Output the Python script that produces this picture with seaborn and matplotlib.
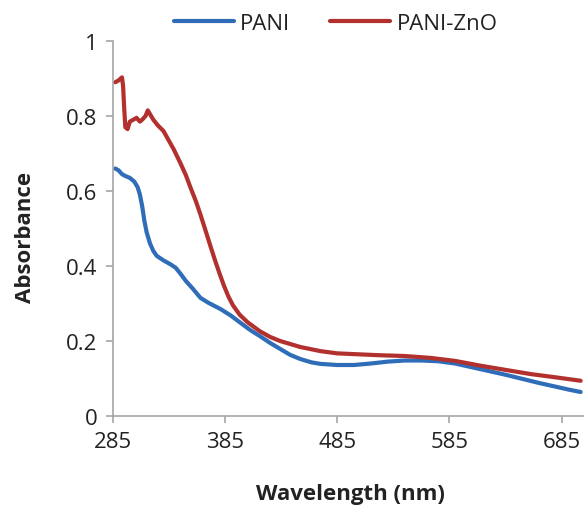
import matplotlib
matplotlib.use("Agg")
import matplotlib.pyplot as plt
import seaborn as sns
import pandas as pd

# ---- data ----
pani_wl = [287, 290, 293, 296, 300, 304, 307, 309, 311, 313, 315, 318, 321, 324,
           330, 336, 341, 345, 350, 356, 363, 370, 381, 390, 398, 407, 416, 425,
           434, 443, 452, 462, 470, 485, 500, 515, 530, 545, 560, 575, 590, 605,
           620, 635, 650, 665, 680, 692, 702]
pani_abs = [0.66, 0.655, 0.645, 0.64, 0.635, 0.625, 0.61, 0.59, 0.56, 0.52, 0.49,
            0.46, 0.44, 0.427, 0.415, 0.405, 0.395, 0.38, 0.36, 0.34, 0.315, 0.302,
            0.285, 0.268, 0.25, 0.23, 0.213, 0.195, 0.179, 0.163, 0.152, 0.143,
            0.139, 0.136, 0.136, 0.14, 0.145, 0.148, 0.148, 0.146, 0.14, 0.13,
            0.12, 0.11, 0.099, 0.088, 0.078, 0.07, 0.064]

zno_wl = [287, 290, 293, 294, 295, 296, 298, 300, 303, 306, 309, 311, 314, 316,
          318, 321, 325, 330, 336, 339, 345, 350, 354, 359, 363, 368, 372, 376,
          380, 384, 388, 392, 398, 405, 416, 425, 434, 452, 470, 485, 500, 523,
          545, 568, 590, 613, 635, 657, 680, 702]
zno_abs = [0.89, 0.895, 0.903, 0.88, 0.82, 0.77, 0.765, 0.785, 0.79, 0.795, 0.785,
           0.79, 0.80, 0.815, 0.805, 0.79, 0.775, 0.76, 0.728, 0.712, 0.675, 0.642,
           0.61, 0.572, 0.537, 0.49, 0.452, 0.415, 0.38, 0.347, 0.318, 0.295, 0.27,
           0.25, 0.226, 0.211, 0.2, 0.184, 0.173, 0.167, 0.165, 0.162, 0.16, 0.155,
           0.147, 0.134, 0.123, 0.112, 0.103, 0.094]

series_names = ["PANI", "PANI-ZnO"]
x_ticks = [285, 385, 485, 585, 685]
y_ticks = [0, 0.2, 0.4, 0.6, 0.8, 1]
y_tick_labels = ["0", "0.2", "0.4", "0.6", "0.8", "1"]

df = pd.concat([
    pd.DataFrame({"Wavelength": pani_wl, "Absorbance": pani_abs, "Sample": series_names[0]}),
    pd.DataFrame({"Wavelength": zno_wl, "Absorbance": zno_abs, "Sample": series_names[1]}),
], ignore_index=True)

sns.set_theme(style="white")
plt.rcParams["font.family"] = ["Open Sans", "DejaVu Sans"]

fig = plt.figure(figsize=(5.84, 5.10), dpi=100)
ax = fig.add_axes([113 / 584, 93 / 510, (584 - 113) / 584, (417 - 42) / 510])

palette = {"PANI": "#2F6DB8", "PANI-ZnO": "#B2302D"}
sns.lineplot(data=df, x="Wavelength", y="Absorbance", hue="Sample",
             palette=palette, linewidth=3.0, ax=ax, sort=False, estimator=None)

ax.set_xlim(285, 705)
ax.set_ylim(0, 1)
ax.set_xticks(x_ticks)
ax.set_xticklabels([str(t) for t in x_ticks])
ax.set_yticks(y_ticks)
ax.set_yticklabels(y_tick_labels)

for side in ["top", "right"]:
    ax.spines[side].set_visible(False)
for side in ["left", "bottom"]:
    ax.spines[side].set_color("#A6A6A6")
    ax.spines[side].set_linewidth(1.2)

ax.tick_params(axis="both", which="major", direction="out", length=5, width=1.2,
               color="#A6A6A6", labelsize=16, labelcolor="#222222", pad=6,
               bottom=True, left=True)

ax.set_xlabel("Wavelength (nm)", fontsize=16, fontweight="bold", color="#222222")
ax.set_ylabel("Absorbance", fontsize=16, fontweight="bold", color="#222222")
ax.xaxis.set_label_coords((350 - 113) / (584 - 113), -(495 - 417) / (417 - 42), transform=ax.transAxes)
ax.yaxis.set_label_coords(-(113 - 26) / (584 - 113), (417 - 237) / (417 - 42), transform=ax.transAxes)
ax.xaxis.label.set_va("center")
ax.yaxis.label.set_va("center")

handles, labels = ax.get_legend_handles_labels()
ax.get_legend().remove()
fig.legend(handles, labels, loc="center", bbox_to_anchor=(0.575, 0.952), ncol=2,
           frameon=False, fontsize=16, handlelength=2.7, handletextpad=0.3,
           columnspacing=1.8, labelcolor="#222222")

fig.savefig("out.png", dpi=100)
